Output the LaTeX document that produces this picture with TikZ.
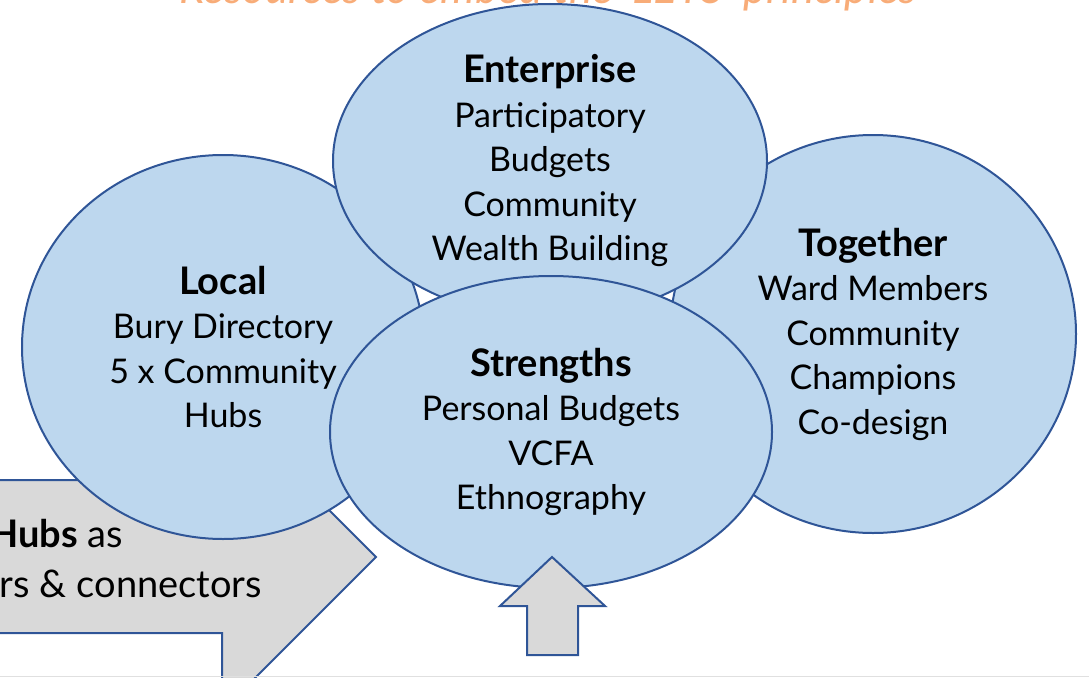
\documentclass[tikz,border=0pt]{standalone}
\usepackage{fontspec}
\setmainfont{Lato}
\usetikzlibrary{shapes.geometric}

\definecolor{bubblefill}{RGB}{189,215,238}
\definecolor{bubbleline}{RGB}{47,85,151}
\definecolor{arrowfill}{RGB}{217,217,217}
\definecolor{titleorange}{RGB}{248,172,120}

\newcommand\bubblehead[1]{{\fontsize{38}{44.5}\selectfont\bfseries #1}}

\begin{document}
\begin{tikzpicture}[x=1pt,y=-1pt,
    bubble/.style={ellipse,draw=bubbleline,fill=bubblefill,line width=2pt,
      align=center,inner sep=0pt,font=\fontsize{34}{44.5}\selectfont},
    bigarrow/.style={draw=bubbleline,fill=arrowfill,line width=2pt,line join=miter},
    arrowtext/.style={inner sep=0pt,anchor=base east,font=\fontsize{38}{50}\selectfont}]
  \useasboundingbox (0,0) rectangle (1089,677);

  \node[inner sep=0pt,anchor=base,text=titleorange,
    font=\fontsize{44}{50}\selectfont\itshape] (title) at (548,3.5)
    {Resources to embed the `LETS' principles};

  % hubs arrow, behind the bubbles
  \draw[bigarrow] (-60,480) -- (222,480) -- (222,403) -- (376,557)
    -- (222,711) -- (222,633) -- (-60,633) -- cycle;
  \node[arrowtext] (hubsa) at (123,547) {\textbf{Community Hubs} as};
  \node[arrowtext] (hubsb) at (262,597) {anchors \& connectors};

  \node[bubble,minimum width=402pt,minimum height=384pt] (local) at (223,347)
    {\bubblehead{Local}\\Bury Directory\\5 x Community\\Hubs};
  \node[bubble,minimum width=406pt,minimum height=398pt] (together) at (873,334)
    {\bubblehead{Together}\\Ward Members\\Community\\Champions\\Co-design};
  \node[bubble,minimum width=434pt,minimum height=314pt] (enterprise) at (550,161)
    {\bubblehead{Enterprise}\\Participatory\\Budgets\\Community\\Wealth Building};
  \node[bubble,minimum width=442pt,minimum height=312pt] (strengths) at (551,432)
    {\bubblehead{Strengths}\\Personal Budgets\\VCFA\\Ethnography};

  \draw[bigarrow] (527,655) -- (527,606) -- (500,606) -- (552,557)
    -- (605,606) -- (578,606) -- (578,655) -- cycle;

  \draw[black!12,line width=1pt] (0,676.5) -- (1089,676.5);
\end{tikzpicture}
\end{document}
